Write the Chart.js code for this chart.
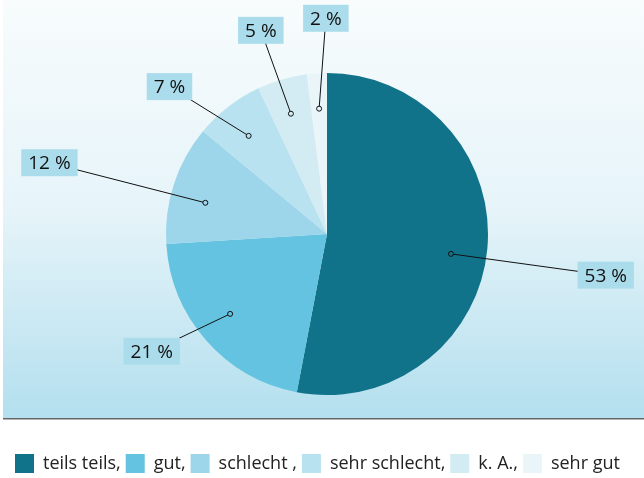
<!DOCTYPE html>
<html>
<head>
<meta charset="utf-8">
<script src="https://cdn.jsdelivr.net/npm/chart.js@4/dist/chart.umd.min.js"></script>
<style>
  html, body { margin: 0; padding: 0; background: #fff; }
  #wrap { width: 644px; height: 478px; }
</style>
</head>
<body>
<div id="wrap"><canvas id="pie" width="644" height="478"></canvas></div>
<script>
// Daten
const categories = ['teils teils,', 'gut,', 'schlecht ,', 'sehr schlecht,', 'k. A.,', 'sehr gut']
const shares = [53, 21, 12, 7, 5, 2]
const sliceColors = ['#10738A', '#64C3E0', '#9DD5EA', '#B9E2F0', '#D3ECF4', '#EAF5FA']

// Hintergrund mit Verlauf + Grundlinie
const backdrop = {
  id: 'backdrop',
  beforeDraw(chart) {
    const { ctx } = chart
    const g = ctx.createLinearGradient(0, 0, 0, 418)
    g.addColorStop(0, '#F8FCFD')
    g.addColorStop(0.5, '#E6F4F9')
    g.addColorStop(1, '#B3DFEE')
    ctx.save()
    ctx.fillStyle = g
    ctx.fillRect(3, 0, 641, 418)
    ctx.fillStyle = '#666'
    ctx.fillRect(3, 418, 641, 1.5)
    ctx.restore()
  },
}

// Beschriftungen mit Führungslinien
const callouts = {
  id: 'callouts',
  afterDatasetsDraw(chart, args, opts) {
    const { ctx } = chart
    const arcs = chart.getDatasetMeta(0).data
    ctx.save()
    ctx.font = '19px "Open Sans", "Noto Sans", sans-serif'
    ctx.textBaseline = 'middle'
    ctx.textAlign = 'center'
    arcs.forEach((arc, i) => {
      const { x, y, startAngle, endAngle, outerRadius } = arc.getProps(['x', 'y', 'startAngle', 'endAngle', 'outerRadius'], true)
      const mid = (startAngle + endAngle) / 2
      const da = mid + opts.dotShift[i] * Math.PI / 180
      const la = mid + opts.labelShift[i] * Math.PI / 180
      const dx = x + Math.cos(da) * outerRadius * 0.78
      const dy = y + Math.sin(da) * outerRadius * 0.78
      const lx = x + Math.cos(la) * outerRadius * opts.labelDist[i]
      const ly = y + Math.sin(la) * outerRadius * opts.labelDist[i]
      ctx.strokeStyle = '#111'
      ctx.lineWidth = 1
      ctx.beginPath(); ctx.moveTo(dx, dy); ctx.lineTo(lx, ly); ctx.stroke()
      ctx.beginPath(); ctx.arc(dx, dy, 2.5, 0, Math.PI * 2)
      ctx.fillStyle = sliceColors[i]; ctx.fill(); ctx.stroke()
      const txt = shares[i] + ' %'
      const w = ctx.measureText(txt).width + 14
      ctx.fillStyle = '#ABDCEC'
      ctx.fillRect(lx - w / 2, ly - 13.5, w, 27)
      ctx.fillStyle = '#111'
      ctx.fillText(txt, lx, ly + 1)
    })
    ctx.restore()
  },
}

new Chart(document.getElementById('pie'), {
  type: 'pie',
  data: {
    labels: categories,
    datasets: [{ data: shares, backgroundColor: sliceColors, borderWidth: 0 }],
  },
  options: {
    responsive: false,
    animation: false,
    layout: { padding: { top: 73, left: 10, right: 0, bottom: -5 } },
    plugins: {
      tooltip: { enabled: false },
      legend: {
        position: 'bottom',
        align: 'start',
        title: { display: true, text: ' ', font: { size: 10 }, padding: { top: 42, bottom: 0 } },
        labels: {
          boxWidth: 19, boxHeight: 19, padding: 5, color: '#222',
          font: { size: 18, family: '"Open Sans", "Noto Sans", sans-serif' },
        },
      },
      callouts: {
        dotShift: [3.7, 1.9, -3.6, -0.8, -0.5, 0],
        labelShift: [3, 7.6, -3.6, -9.1, -1.8, 3.3],
        labelDist: [1.75, 1.31, 1.78, 1.34, 1.33, 1.34],
      },
    },
  },
  plugins: [backdrop, callouts],
})
</script>
</body>
</html>
